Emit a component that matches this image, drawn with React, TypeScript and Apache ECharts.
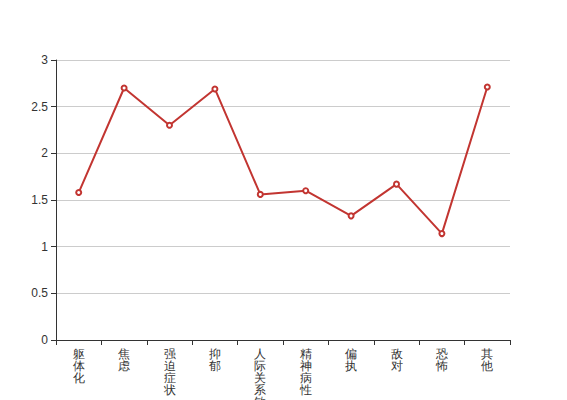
import React, { useEffect, useRef } from "react";
import * as echarts from "echarts";

const categories = ["躯体化", "焦虑", "强迫症状", "抑郁", "人际关系敏感", "精神病性", "偏执", "敌对", "恐怖", "其他"];
const values = [1.58, 2.7, 2.3, 2.69, 1.56, 1.6, 1.33, 1.67, 1.14, 2.71];

export default function App() {
  const ref = useRef<HTMLDivElement>(null);
  useEffect(() => {
    document.body.style.margin = "0";
    const chart = echarts.init(ref.current!, null, { renderer: "svg" });
    chart.setOption({
      animation: false,
      textStyle: { fontFamily: "sans-serif" },
      grid: { left: 56, right: 57, top: 60, bottom: 60, containLabel: false, outerBoundsMode: "none" },
      xAxis: {
        type: "category",
        data: categories,
        axisLine: { show: true, lineStyle: { color: "#333" } },
        axisTick: { show: true, lineStyle: { color: "#333" } },
        axisLabel: {
          interval: 0,
          color: "#333",
          fontSize: 12,
          lineHeight: 12,
          formatter: (v: string) => v.split("").join("\n"),
        },
      },
      yAxis: {
        type: "value",
        min: 0,
        max: 3,
        interval: 0.5,
        axisLine: { show: true, lineStyle: { color: "#333" } },
        axisTick: { show: true, lineStyle: { color: "#333" } },
        axisLabel: { color: "#333", fontSize: 12 },
        splitLine: { show: true, lineStyle: { color: "#ccc" } },
      },
      series: [
        {
          type: "line",
          data: values,
          symbol: "emptyCircle",
          symbolSize: 5,
          lineStyle: { color: "#c23531", width: 2 },
          itemStyle: { color: "#c23531" },
        },
      ],
    });
    return () => chart.dispose();
  }, []);
  return <div ref={ref} style={{ width: 567, height: 400 }} />;
}
